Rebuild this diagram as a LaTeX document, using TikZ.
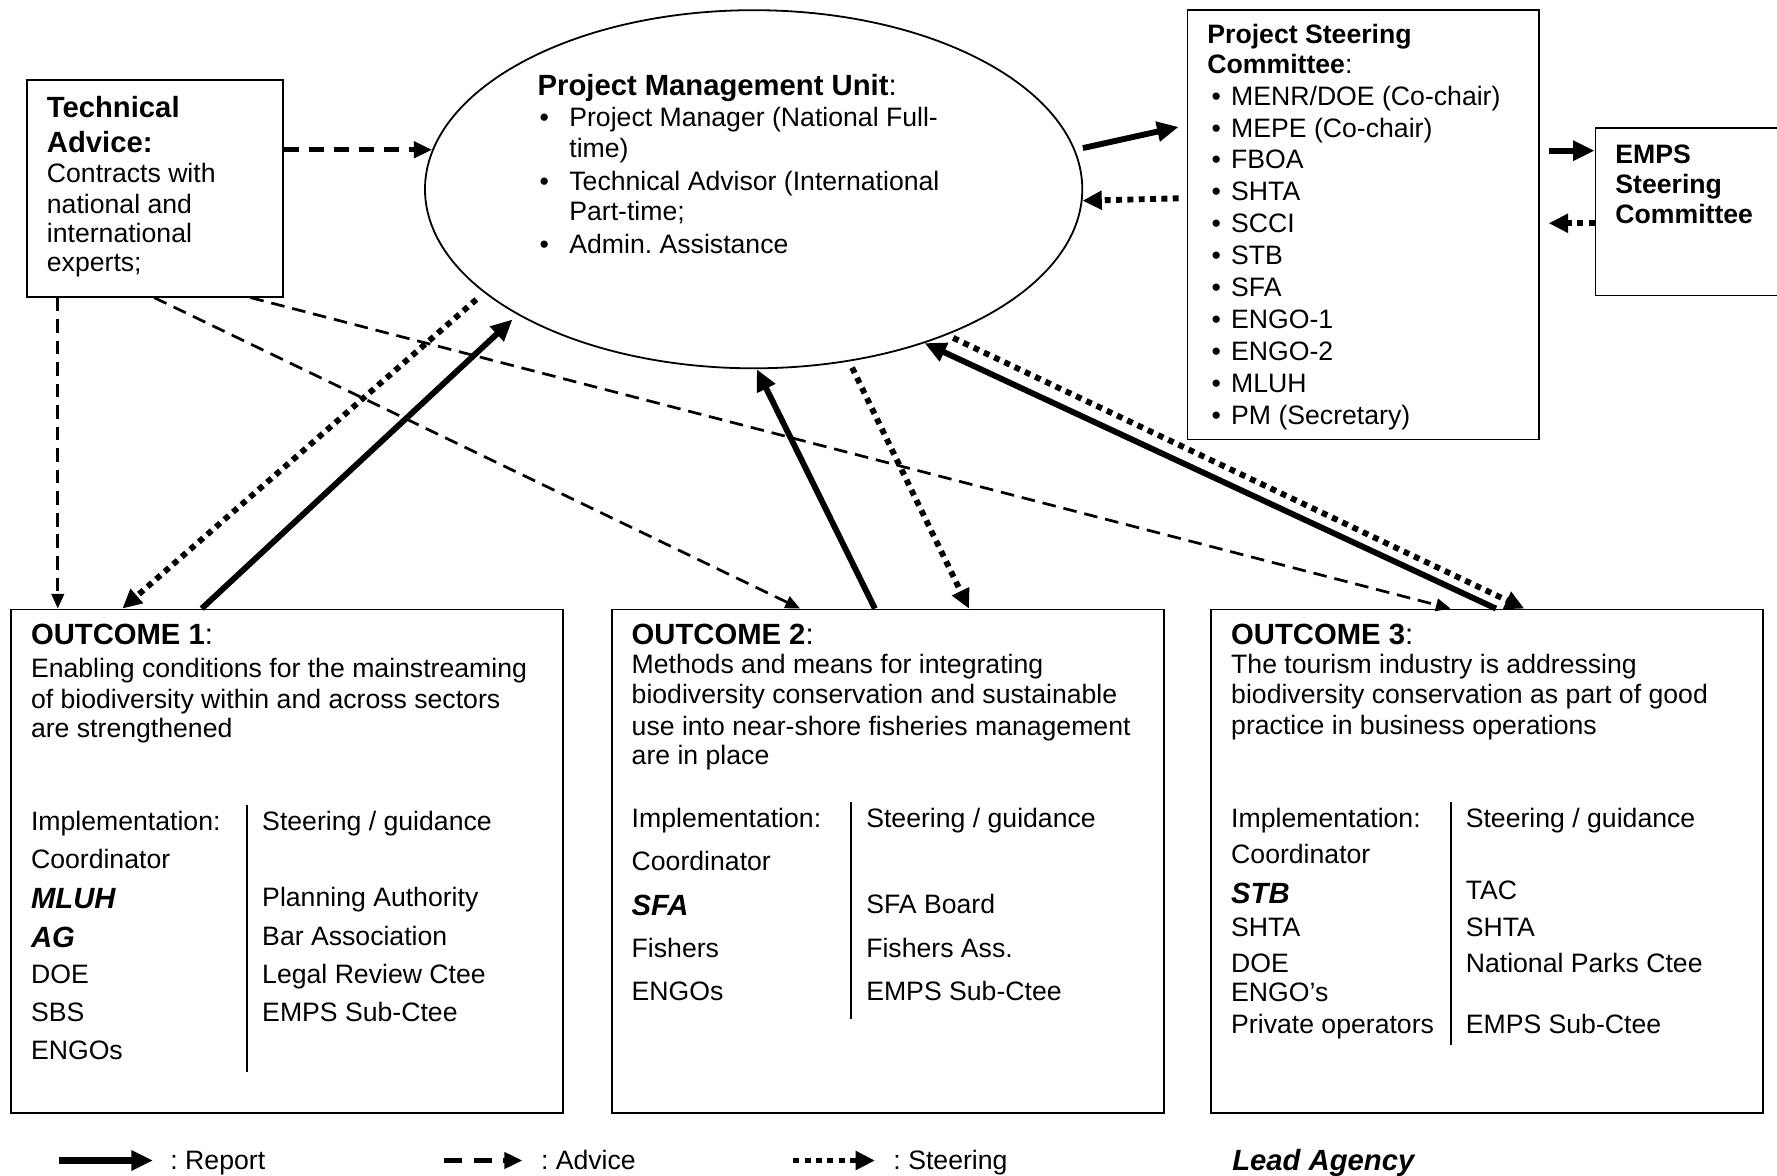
\documentclass[tikz,border=0pt]{standalone}
\usepackage{fontspec}
\setmainfont{Liberation Sans}
\usetikzlibrary{arrows.meta,calc,shapes.geometric}
\begin{document}
\frenchspacing
\begin{tikzpicture}[x=0.5pt,y=-0.5pt,
  box/.style={draw,line width=0.8pt,rectangle,anchor=north west,inner sep=0pt},
  body/.style={anchor=base west,inner sep=0pt,font=\fontsize{11.75}{13}\selectfont},
  head/.style={anchor=base west,inner sep=0pt,font=\fontsize{12.9}{14}\selectfont\bfseries},
  shead/.style={anchor=base west,inner sep=0pt,font=\fontsize{11.75}{13}\selectfont\bfseries},
  lead/.style={anchor=base west,inner sep=0pt,font=\fontsize{12.9}{14}\selectfont\bfseries\itshape},
  report/.style={line width=2.6pt,-{Triangle[length=9.5pt,width=8.5pt]}},
  advice/.style={line width=1.2pt,dash pattern=on 6pt off 3.5pt,-{Triangle[length=6.5pt,width=5.5pt]}},
  advicethick/.style={line width=2.1pt,dash pattern=on 6.8pt off 4.2pt,-{Triangle[length=8pt,width=7pt]}},
  steer/.style={line width=2.6pt,dash pattern=on 2.6pt off 2.4pt,-{Triangle[length=8.5pt,width=8pt]}},
  divider/.style={line width=0.8pt}
]
\useasboundingbox (0,0) rectangle (1568,1037);
\fill[white] (0,0) rectangle (1568,1037);
\clip (0,0) rectangle (1568,1037);

% ---------------- boxes ----------------
\node[box,minimum width=113pt,minimum height=95.5pt] (ta) at (23,70) {};
\node[draw,ellipse,line width=0.8pt,minimum width=290pt,minimum height=158pt,inner sep=0pt] (pmu) at (665,167) {};
\node[box,minimum width=155pt,minimum height=189.5pt] (psc) at (1047,8) {};
\node[box,minimum width=110pt,minimum height=74pt] (emps) at (1407,112) {};
\node[box,minimum width=243.5pt,minimum height=222pt] (o1) at (9,537) {};
\node[box,minimum width=243.5pt,minimum height=222pt] (o2) at (539,537) {};
\node[box,minimum width=243.5pt,minimum height=222pt] (o3) at (1068,537) {};

% ---------------- Technical advice ----------------
\node[head] (ta1) at (41,104) {Technical};
\node[head] (ta2) at (41,135) {Advice:};
\node[body] (ta3) at (41,161) {Contracts with};
\node[body] (ta4) at (41,188) {national and};
\node[body] (ta5) at (41,214) {international};
\node[body] (ta6) at (41,240) {experts;};

% ---------------- PMU ----------------
\node[head] (pmuh) at (474,84) {Project Management Unit\mdseries:};
\node[body] (pmu1) at (502,112) {\llap{\textbullet\hspace{9pt}}Project Manager (National Full-};
\node[body] (pmu2) at (502,139) {time)};
\node[body] (pmu3) at (502,168) {\llap{\textbullet\hspace{9pt}}Technical Advisor (International};
\node[body] (pmu4) at (502,195) {Part-time;};
\node[body] (pmu5) at (502,224) {\llap{\textbullet\hspace{9pt}}Admin. Assistance};

% ---------------- PSC ----------------
\node[shead] (psch1) at (1065,38) {Project Steering};
\node[shead] (psch2) at (1065,65) {Committee\mdseries:};
\foreach \yy/\txt [count=\i] in {93/{MENR/DOE (Co-chair)},121/{MEPE (Co-chair)},149/FBOA,177/SHTA,205/SCCI,233/STB,262/SFA,290/ENGO-1,318/ENGO-2,346/MLUH,375/{PM (Secretary)}}
  \node[body] (psc\i) at (1086,\yy) {\llap{\textbullet\hspace{4.5pt}}\txt};

% ---------------- EMPS ----------------
\node[shead] (emps1) at (1425,144) {EMPS};
\node[shead] (emps2) at (1425,171) {Steering};
\node[shead] (emps3) at (1425,197) {Committee};

% ---------------- Outcome 1 ----------------
\node[head] (o1h) at (27,569) {OUTCOME 1\mdseries:};
\node[body] (o1b1) at (27,598) {Enabling conditions for the mainstreaming};
\node[body] (o1b2) at (27,625) {of biodiversity within and across sectors};
\node[body] (o1b3) at (27,651) {are strengthened};
\node[body] (o1l1) at (27,733) {Implementation:};
\node[body] (o1l2) at (27,766) {Coordinator};
\node[lead] (o1l3) at (27,802) {MLUH};
\node[lead] (o1l4) at (27,836) {AG};
\node[body] (o1l5) at (27,868) {DOE};
\node[body] (o1l6) at (27,901) {SBS};
\node[body] (o1l7) at (27,935) {ENGOs};
\node[body] (o1r1) at (231,733) {Steering / guidance};
\node[body] (o1r2) at (231,800) {Planning Authority};
\node[body] (o1r3) at (231,834) {Bar Association};
\node[body] (o1r4) at (231,868) {Legal Review Ctee};
\node[body] (o1r5) at (231,901) {EMPS Sub-Ctee};
\draw[divider] (218,710) -- (218,946);

% ---------------- Outcome 2 ----------------
\node[head] (o2h) at (557,569) {OUTCOME 2\mdseries:};
\node[body] (o2b1) at (557,594) {Methods and means for integrating};
\node[body] (o2b2) at (557,621) {biodiversity conservation and sustainable};
\node[body] (o2b3) at (557,649) {use into near-shore fisheries management};
\node[body] (o2b4) at (557,675) {are in place};
\node[body] (o2l1) at (557,730) {Implementation:};
\node[body] (o2l2) at (557,768) {Coordinator};
\node[lead] (o2l3) at (557,808) {SFA};
\node[body] (o2l4) at (557,845) {Fishers};
\node[body] (o2l5) at (557,883) {ENGOs};
\node[body] (o2r1) at (764,730) {Steering / guidance};
\node[body] (o2r2) at (764,806) {SFA Board};
\node[body] (o2r3) at (764,845) {Fishers Ass.};
\node[body] (o2r4) at (764,883) {EMPS Sub-Ctee};
\draw[divider] (751,708) -- (751,899);

% ---------------- Outcome 3 ----------------
\node[head] (o3h) at (1086,569) {OUTCOME 3\mdseries:};
\node[body] (o3b1) at (1086,594) {The tourism industry is addressing};
\node[body] (o3b2) at (1086,621) {biodiversity conservation as part of good};
\node[body] (o3b3) at (1086,648) {practice in business operations};
\node[body] (o3l1) at (1086,730) {Implementation:};
\node[body] (o3l2) at (1086,762) {Coordinator};
\node[lead] (o3l3) at (1086,797) {STB};
\node[body] (o3l4) at (1086,826) {SHTA};
\node[body] (o3l5) at (1086,858) {DOE};
\node[body] (o3l6) at (1086,884) {ENGO’s};
\node[body] (o3l7) at (1086,912) {Private operators};
\node[body] (o3r1) at (1293,730) {Steering / guidance};
\node[body] (o3r2) at (1293,794) {TAC};
\node[body] (o3r3) at (1293,826) {SHTA};
\node[body] (o3r4) at (1293,858) {National Parks Ctee};
\node[body] (o3r5) at (1293,912) {EMPS Sub-Ctee};
\draw[divider] (1280,708) -- (1280,922);

% ---------------- connectors ----------------
% advice
\draw[advicethick] (ta.east |- pmu.173) -- (pmu.173);
\draw[advice] ($(ta.south west)+(28,0)$) -- ($(o1.north west)+(42,0)$);
\draw[advice] ($(ta.south west)+(113,0)$) -- ($(o2.north west)+(167,0)$);
\draw[advice] ($(ta.south west)+(198,0)$) -- ($(o3.north west)+(212,0)$);
% PMU <-> PSC
\draw[report,shorten <=3.5pt] (pmu.7) -- ($(psc.north west)+(-7,104)$);
\draw[steer] ($(psc.north west)+(-7,167)$) -- (pmu.-2);
% PSC <-> EMPS
\draw[report] ($(psc.north east)+(8,125)$) -- ($(emps.north west)+(0,21)$);
\draw[steer] ($(emps.north west)+(0,85)$) -- ($(psc.north east)+(8,189)$);
% Outcome 1
\draw[steer,shorten <=4.5pt] (pmu.-159) -- ($(o1.north west)+(99,0)$);
\draw[report,shorten >=3pt] ($(o1.north west)+(169,0)$) -- (pmu.-152);
% Outcome 2
\draw[report] ($(o2.north west)+(233,0)$) -- (pmu.-89);
\draw[steer,shorten <=3pt] (pmu.-61) -- ($(o2.north west)+(316,0)$);
% Outcome 3
\draw[report] ($(o3.north west)+(252,0)$) -- (pmu.-42);
\draw[steer,shorten <=3pt] (pmu.-37) -- ($(o3.north west)+(277,0)$);

% ---------------- legend ----------------
\coordinate (lr1) at (52,1024);  \coordinate (lr2) at (135,1024);
\coordinate (la1) at (392,1024); \coordinate (la2) at (461,1024);
\coordinate (ls1) at (700,1024); \coordinate (ls2) at (772,1024);
\draw[report,line width=3.2pt] (lr1) -- (lr2);
\draw[advicethick,dash pattern=on 8pt off 5pt] (la1) -- (la2);
\draw[steer] (ls1) -- (ls2);
\node[body] (lrt) at (150,1032) {: Report};
\node[body] (lat) at (477,1032) {: Advice};
\node[body] (lst) at (788,1032) {: Steering};
\node[lead] (lead) at (1087,1033) {Lead Agency};
\end{tikzpicture}
\end{document}
